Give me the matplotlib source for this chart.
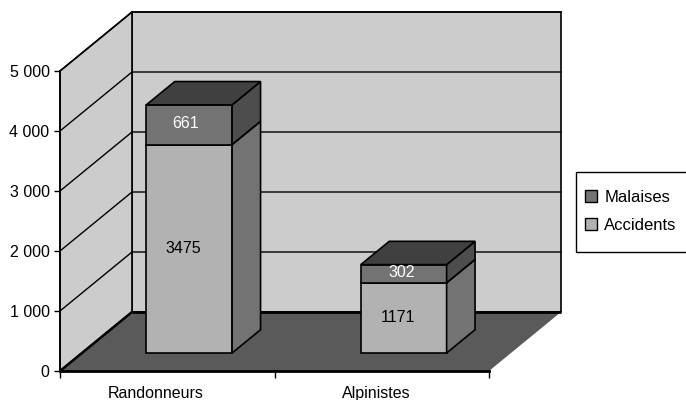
import matplotlib
matplotlib.use("Agg")
import matplotlib.pyplot as plt
from matplotlib.patches import Polygon, Patch, Rectangle
from matplotlib.ticker import FuncFormatter

categories = ["Randonneurs", "Alpinistes"]
accidents = [3475, 1171]
malaises = [661, 302]
series_names = ["Malaises", "Accidents"]
y_ticks = [0, 1000, 2000, 3000, 4000, 5000]

plt.rcParams["font.family"] = ["Liberation Sans", "DejaVu Sans"]

WALL = "#cccccc"
FLOOR = "#5a5a5a"
LIGHT = ("#b2b2b2", "#737373", "#8c8c8c")
DARK = ("#737373", "#4d4d4d", "#404040")

# Oblique projection: full chart depth, expressed in axis units
DEPTH_X = 72 / 214.5
DEPTH_Y = 59 / 0.06
BAR_WIDTH = 0.40
BAR_NEAR, BAR_FAR = 0.305, 0.70

fig = plt.figure(figsize=(6.86, 4.0), dpi=100)
ax = fig.add_axes([60 / 686, 29 / 400, 429 / 686, 300 / 400])
ax.set_xlim(0, 2)
ax.set_ylim(0, 5000)
ax.patch.set_visible(False)


def proj(x, y, d):
    return (x + d * DEPTH_X, y + d * DEPTH_Y)


def poly(points, color, lw=1.2, edge="black", z=2):
    ax.add_patch(Polygon(points, closed=True, facecolor=color, edgecolor=edge,
                         linewidth=lw, joinstyle="miter", clip_on=False, zorder=z))


# Walls and floor
top = y_ticks[-1]
poly([proj(0, 0, 1), proj(2, 0, 1), proj(2, top, 1), proj(0, top, 1)], WALL)
poly([proj(0, 0, 0), proj(0, 0, 1), proj(0, top, 1), proj(0, top, 0)], WALL)
poly([proj(0, 0, 0), proj(0, 0, 1), proj(2, 0, 1), proj(2, 0, 0)], FLOOR, lw=0, edge="none", z=2.1)
for a, b, w in [((0, 0, 0), (0, 0, 1), 1.8), ((0, 0, 1), (2, 0, 1), 2.0)]:
    pa, pb = proj(*a), proj(*b)
    ax.plot([pa[0], pb[0]], [pa[1], pb[1]], color="black", lw=w, clip_on=False, zorder=2.2,
            solid_capstyle="butt")
for v in y_ticks[1:]:
    p0, p1, p2 = proj(0, v, 0), proj(0, v, 1), proj(2, v, 1)
    ax.plot([p0[0], p1[0], p2[0]], [p0[1], p1[1], p2[1]], color="black", lw=1.0,
            clip_on=False, zorder=2.05)


def box(x0, x1, y0, y1, colors, z):
    front, side, roof = colors
    poly([proj(x0, y0, BAR_NEAR), proj(x1, y0, BAR_NEAR), proj(x1, y1, BAR_NEAR), proj(x0, y1, BAR_NEAR)], front, z=z)
    poly([proj(x1, y0, BAR_NEAR), proj(x1, y0, BAR_FAR), proj(x1, y1, BAR_FAR), proj(x1, y1, BAR_NEAR)], side, z=z)
    poly([proj(x0, y1, BAR_NEAR), proj(x1, y1, BAR_NEAR), proj(x1, y1, BAR_FAR), proj(x0, y1, BAR_FAR)], roof, z=z)


# Stacked bars with their value labels
for i, (acc, mal) in enumerate(zip(accidents, malaises)):
    c = i + 0.5
    x0, x1 = c - BAR_WIDTH / 2, c + BAR_WIDTH / 2
    box(x0, x1, 0, acc, LIGHT, 3)
    box(x0, x1, acc, acc + mal, DARK, 3.1)
    fx = c + BAR_NEAR * DEPTH_X
    off = BAR_NEAR * DEPTH_Y
    ax.annotate(str(acc), (fx, off + acc / 2), xytext=(-6, 0),
                textcoords="offset pixels", ha="center", va="center", fontsize=11.5,
                color="black", zorder=5)
    ax.annotate(str(mal), (fx, off + acc + mal / 2), xytext=(-4 if i == 0 else -2, 1),
                textcoords="offset pixels", ha="center", va="center", fontsize=11.5,
                color="white", zorder=5)

# Axes furniture
for name in ("top", "right"):
    ax.spines[name].set_visible(False)
ax.spines["left"].set_linewidth(1.2)
ax.spines["bottom"].set_linewidth(2.0)
ax.spines["left"].set_zorder(4)
ax.spines["bottom"].set_zorder(4)
ax.set_yticks(y_ticks)
ax.yaxis.set_major_formatter(FuncFormatter(lambda v, _: f"{int(v):,}".replace(",", " ")))
ax.tick_params(axis="y", length=4, width=1, pad=3.5, labelsize=11.5)
ax.set_xticks([0, 1, 2])
ax.set_xticklabels([])
# Category names sit slightly left of the slot centres
ax.set_xticks([0.5 - 12 / 214.5, 1.5 - 5 / 214.5], minor=True)
ax.set_xticklabels(categories, minor=True, fontsize=11.5)
ax.tick_params(axis="x", which="major", length=5, width=1)
ax.tick_params(axis="x", which="minor", length=0, pad=10.5)

# Legend frame and entries
fig.add_artist(Rectangle((576 / 686, 148 / 400), 111 / 686, 80 / 400, transform=fig.transFigure,
                         facecolor="white", edgecolor="black", linewidth=1.0))
handles = [Patch(facecolor=DARK[0], edgecolor="black", linewidth=1.0),
           Patch(facecolor=LIGHT[0], edgecolor="black", linewidth=1.0)]
leg = fig.legend(handles, series_names, loc="center left",
                 bbox_to_anchor=(585 / 686, 189 / 400),
                 frameon=False, fontsize=12, handlelength=0.7, handleheight=0.7,
                 handletextpad=0.45, labelspacing=0.78, borderaxespad=0, borderpad=0)

fig.savefig("out.png", dpi=100, facecolor="white")
